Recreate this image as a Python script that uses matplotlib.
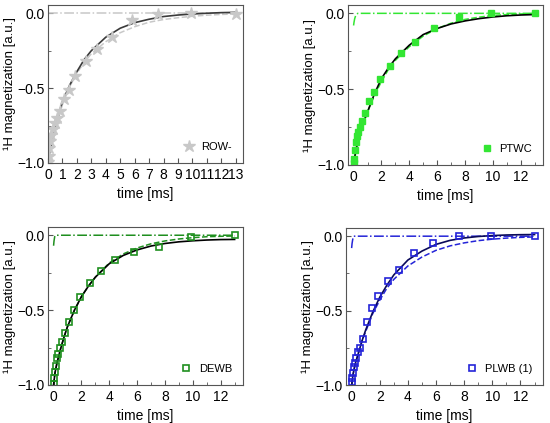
import matplotlib
matplotlib.use("Agg")
import matplotlib.pyplot as plt
from matplotlib.ticker import MultipleLocator

plt.rcParams['font.family'] = ['Liberation Sans', 'DejaVu Sans']

# measured times [ms]
t_data = [0.02, 0.05, 0.1, 0.16, 0.23, 0.32, 0.45, 0.6, 0.8, 1.1, 1.45, 1.9,
          2.6, 3.4, 4.4, 5.8, 7.6, 9.9, 13.0]

row_data = [-0.99, -0.95, -0.90, -0.85, -0.81, -0.77, -0.73, -0.70, -0.65, -0.57,
            -0.51, -0.42, -0.32, -0.24, -0.16, -0.045, -0.005, 0.0, -0.005]
ptwc_data = [-0.99, -0.96, -0.90, -0.85, -0.81, -0.78, -0.75, -0.71, -0.66, -0.58,
             -0.52, -0.43, -0.35, -0.26, -0.19, -0.095, -0.025, 0.0, 0.0]
dewb_data = [-0.99, -0.95, -0.91, -0.87, -0.82, -0.79, -0.75, -0.71, -0.65, -0.58,
             -0.50, -0.41, -0.32, -0.24, -0.165, -0.11, -0.078, -0.01, 0.0]
plwb_data = [-0.98, -0.95, -0.92, -0.88, -0.85, -0.82, -0.78, -0.75, -0.69, -0.58,
             -0.48, -0.40, -0.30, -0.23, -0.11, -0.045, 0.0, 0.0, 0.0]

# fit curves
t_fit = [0, 0.1, 0.25, 0.5, 0.75, 1, 1.5, 2, 2.5, 3, 4, 5, 6, 7, 8, 9, 10, 11, 12, 13]

row_solid = [-1.0, -0.94, -0.87, -0.77, -0.67, -0.59, -0.48, -0.39, -0.31, -0.25,
             -0.16, -0.10, -0.063, -0.04, -0.022, -0.012, -0.005, 0.0, 0.004, 0.006]
row_dash = [-1.0, -0.95, -0.88, -0.78, -0.69, -0.61, -0.49, -0.40, -0.33, -0.27,
            -0.19, -0.13, -0.09, -0.06, -0.042, -0.03, -0.02, -0.013, -0.008, -0.005]
ptwc_solid = [-1.0, -0.94, -0.87, -0.79, -0.71, -0.65, -0.53, -0.43, -0.36, -0.30,
              -0.21, -0.14, -0.10, -0.07, -0.05, -0.035, -0.024, -0.016, -0.011, -0.008]
ptwc_dash = [-1.0, -0.93, -0.86, -0.78, -0.71, -0.65, -0.54, -0.45, -0.37, -0.31,
             -0.22, -0.15, -0.10, -0.065, -0.04, -0.025, -0.014, -0.008, -0.004, -0.002]
dewb_solid = [-1.0, -0.92, -0.85, -0.76, -0.68, -0.61, -0.50, -0.41, -0.34, -0.28,
              -0.19, -0.135, -0.098, -0.072, -0.055, -0.044, -0.037, -0.032, -0.029, -0.028]
dewb_dash = [-1.0, -0.92, -0.85, -0.76, -0.68, -0.61, -0.50, -0.41, -0.34, -0.28,
             -0.185, -0.125, -0.085, -0.057, -0.038, -0.025, -0.016, -0.01, -0.007, -0.005]
plwb_solid = [-1.0, -0.93, -0.86, -0.78, -0.70, -0.63, -0.51, -0.41, -0.33, -0.26,
              -0.16, -0.10, -0.055, -0.028, -0.012, -0.002, 0.004, 0.008, 0.01, 0.011]
plwb_dash = [-1.0, -0.93, -0.86, -0.78, -0.70, -0.64, -0.52, -0.43, -0.35, -0.29,
             -0.20, -0.14, -0.095, -0.065, -0.045, -0.03, -0.02, -0.013, -0.008, -0.005]

# fast component (dash-dot)
t_fast = [0, 0.03, 0.08, 0.15, 0.3, 13]
row_fast = [0, 0, 0, 0, 0, 0]
ptwc_fast = [-0.08, -0.06, -0.035, -0.015, 0, 0]
dewb_fast = [-0.07, -0.04, -0.01, 0, 0, 0]
plwb_fast = [-0.08, -0.05, -0.02, 0, 0, 0]

panels = [
    ("ROW-", row_data, row_solid, row_dash, row_fast, "#c8c8c8", "#3a3a3a", "*", True,
     [48, 5, 243, 163], (0, 13.5), 1),
    ("PTWC", ptwc_data, ptwc_solid, ptwc_dash, ptwc_fast, "#33e633", "#000000", "s", True,
     [348, 5, 543, 165], (-0.4, 13.6), 2),
    ("DEWB", dewb_data, dewb_solid, dewb_dash, dewb_fast, "#1f8f1f", "#000000", "s", False,
     [48, 227, 243, 385], (-0.4, 13.6), 2),
    ("PLWB (1)", plwb_data, plwb_solid, plwb_dash, plwb_fast, "#2424d8", "#0a0a5a", "s", False,
     [346, 228, 543, 385], (-0.4, 13.6), 2),
]

W, H = 550, 423
fig = plt.figure(figsize=(W / 100, H / 100), dpi=100)

for name, yd, ys, ydash, yfast, col, solid_col, mk, filled, box, xl, xstep in panels:
    l, tp, r, b = box
    ax = fig.add_axes([l / W, 1 - b / H, (r - l) / W, (b - tp) / H])
    ax.plot(t_fast, yfast, color=col, ls="-.", lw=1.1)
    ax.plot(t_fit, ydash, color=col, ls="--", lw=1.1)
    ax.plot(t_fit, ys, color=solid_col, ls="-", lw=1.2)
    if mk == "*":
        ax.plot(t_data, yd, ls="none", marker="*", ms=9, color=col, label=name)
    elif filled:
        ax.plot(t_data, yd, ls="none", marker="s", ms=4.5, color=col, label=name)
    else:
        ax.plot(t_data, yd, ls="none", marker="s", ms=4.5, mfc="none", mec=col,
                mew=1.2, label=name)
    ax.set_xlim(*xl)
    ax.set_ylim(-1.0, 0.055)
    ax.xaxis.set_major_locator(MultipleLocator(xstep))
    if xstep == 2:
        ax.xaxis.set_minor_locator(MultipleLocator(1))
    ax.yaxis.set_major_locator(MultipleLocator(0.5))
    ax.yaxis.set_minor_locator(MultipleLocator(0.25))
    ax.tick_params(which="both", direction="in", labelsize=10, color="#555555")
    ax.tick_params(which="major", length=3.5)
    ax.tick_params(which="minor", length=2)
    ax.tick_params(axis="y", pad=2.5)
    ax.yaxis.set_major_formatter(plt.FuncFormatter(lambda v, p: ("%.1f" % v).replace("-", "\u2212")))
    for s in ax.spines.values():
        s.set_color("#555555")
    ax.set_xlabel("time [ms]", fontsize=10)
    ax.set_ylabel("\u00b9H magnetization [a.u.]", fontsize=9.5, labelpad=1)
    ax.legend(loc="lower right", frameon=False, fontsize=8, handletextpad=0.6,
              handlelength=1.0, borderaxespad=0.6)

fig.savefig("out.png", dpi=100)
